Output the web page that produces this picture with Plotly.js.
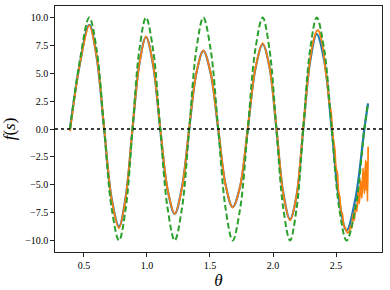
<!DOCTYPE html>
<html>
<head>
<meta charset="utf-8">
<script src="https://cdn.plot.ly/plotly-3.0.1.min.js"></script>
<style>html,body{margin:0;padding:0;background:#fff}#chart{width:390px;height:290px}</style>
</head>
<body>
<div id="chart"></div>
<script>
// theta positions of the read points (peaks, troughs, zero crossings, mid-slopes)
const thetaSmooth = [0.389, 0.465, 0.542, 0.601, 0.66, 0.719, 0.778, 0.832, 0.885, 0.939, 0.992, 1.049, 1.105, 1.163, 1.22, 1.278, 1.335, 1.391, 1.447, 1.506, 1.565, 1.623, 1.68, 1.74, 1.80, 1.859, 1.918, 1.973, 2.027, 2.081, 2.135, 2.188, 2.24, 2.294, 2.347, 2.407, 2.466, 2.525, 2.584, 2.655, 2.725, 2.754];
// blue model curve
const blueF = [0, 5.7, 9.35, 6.4, 0, -6.2, -8.75, -6.0, 0, 5.8, 8.25, 5.7, 0, -5.4, -7.6, -5.2, 0, 4.95, 7.0, 4.95, 0, -4.95, -7.0, -5.1, 0, 5.3, 7.6, 5.5, 0, -5.7, -8.1, -5.9, 0, 6.0, 8.5, 6.1, 0, -6.4, -9.1, -6.2, 0, 2.3];
// green dashed reference curve
const greenF = [0, 6.0, 10, 7.07, 0, -7.07, -10, -7.07, 0, 7.07, 10, 7.07, 0, -7.07, -10, -7.07, 0, 7.07, 10, 7.07, 0, -7.07, -10, -7.07, 0, 7.07, 10, 7.07, 0, -7.07, -10, -7.07, 0, 7.07, 10, 7.07, 0, -7.07, -10, -7.07, 0, 2.3];
// orange noisy curve
const thetaOrange = [0.389, 0.465, 0.542, 0.601, 0.66, 0.719, 0.778, 0.832, 0.885, 0.939, 0.992, 1.049, 1.105, 1.163, 1.22, 1.278, 1.335, 1.391, 1.447, 1.506, 1.565, 1.623, 1.68, 1.74, 1.80, 1.859, 1.918, 1.973, 2.027, 2.081, 2.135, 2.188, 2.24, 2.294, 2.32, 2.347, 2.36, 2.38, 2.40, 2.415, 2.43, 2.445, 2.46, 2.475, 2.49, 2.50, 2.51, 2.52, 2.53, 2.54, 2.55, 2.56, 2.575, 2.59, 2.605, 2.615, 2.625, 2.635, 2.645, 2.655, 2.665, 2.675, 2.685, 2.695, 2.705, 2.715, 2.725, 2.735, 2.74, 2.745, 2.75, 2.755];
const orangeF = [-0.2, 5.7, 9.3, 6.5, 0.1, -6.3, -8.9, -6.1, 0.1, 5.8, 8.3, 5.8, 0.1, -5.4, -7.6, -5.3, 0.1, 5.0, 7.05, 5.0, 0.1, -5.0, -7.05, -5.1, 0.1, 5.4, 7.7, 5.5, 0.2, -5.8, -8.2, -5.9, 0.2, 6.2, 7.9, 8.8, 8.85, 8.2, 7.0, 5.4, 4.3, 2.5, 1.6, -0.6, -1.8, -3.5, -3.9, -5.6, -6.1, -7.4, -7.6, -8.6, -8.9, -9.3, -9.2, -8.7, -8.9, -7.6, -8.2, -6.8, -7.4, -5.6, -6.7, -4.6, -6.2, -3.5, -5.8, -2.8, -5.5, -3.0, -6.5, -1.6];

const xTicks = [0.5, 1.0, 1.5, 2.0, 2.5];
const yTicks = [-10, -7.5, -5, -2.5, 0, 2.5, 5, 7.5, 10];

const font = {family: 'Liberation Serif, DejaVu Serif, serif', size: 10, color: '#000'};

const traces = [
  {x: thetaSmooth, y: blueF, mode: 'lines', line: {color: '#1f77b4', width: 2.2, shape: 'spline'}, hoverinfo: 'skip'},
  {x: thetaOrange, y: orangeF, mode: 'lines', line: {color: '#ff7f0e', width: 1.8, shape: 'spline', smoothing: 0.8}, hoverinfo: 'skip'},
  {x: thetaSmooth, y: greenF, mode: 'lines', line: {color: '#2ca02c', width: 2, shape: 'spline', dash: '6px,3px'}, hoverinfo: 'skip'}
];

const layout = {
  width: 390, height: 290,
  margin: {l: 55, r: 8, t: 6, b: 38},
  paper_bgcolor: '#fff', plot_bgcolor: '#fff',
  showlegend: false,
  font: font,
  xaxis: {
    range: [0.27, 2.865], tickvals: xTicks, tickformat: '.1f',
    showgrid: false, zeroline: false, showline: true, mirror: true,
    linecolor: '#222', linewidth: 1.2, ticks: 'outside', ticklen: 3.5, tickwidth: 1, tickcolor: '#222',
    tickfont: font,
    title: {text: '<i>θ</i>', font: {family: 'Liberation Serif, DejaVu Serif, serif', size: 17, color: '#000'}, standoff: 3}
  },
  yaxis: {
    range: [-11.03, 11.03], tickvals: yTicks, tickformat: '.1f',
    showgrid: false, zeroline: false, showline: true, mirror: true,
    linecolor: '#222', linewidth: 1.2, ticks: 'outside', ticklen: 3.5, tickwidth: 1, tickcolor: '#222',
    tickfont: font,
    title: {text: '<i>f</i>(<i>s</i>)', font: {family: 'Liberation Serif, DejaVu Serif, serif', size: 17, color: '#000'}, standoff: 10}
  },
  shapes: [
    {type: 'line', xref: 'paper', yref: 'y', x0: 0, x1: 1, y0: 0, y1: 0, line: {color: '#000', width: 1.5, dash: 'dot'}, layer: 'above'}
  ]
};

Plotly.newPlot('chart', traces, layout, {staticPlot: true, displayModeBar: false});
</script>
</body>
</html>
